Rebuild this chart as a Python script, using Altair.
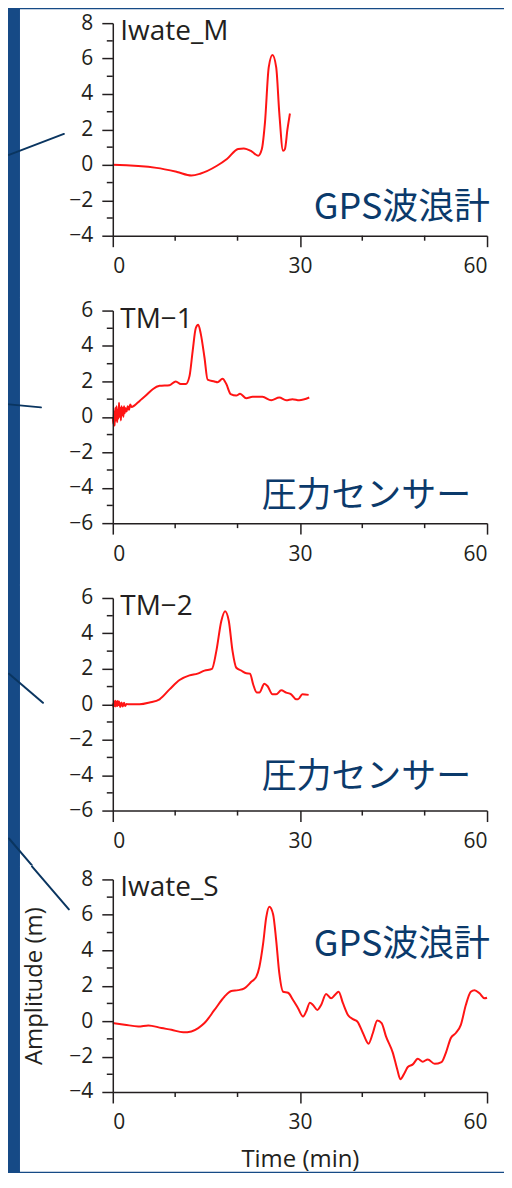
import altair as alt
import pandas as pd

# ---------------- data ----------------
IWATE_M_T = [0, 7, 10.3, 12.6, 14, 16.7, 18.3, 20.1, 21, 22.3, 23.3, 23.9, 24.4, 25.0, 25.6,
             26.2, 26.7, 27.3, 27.6, 28.0, 28.4]
IWATE_M_V = [0, -0.17, -0.4, -0.6, -0.5, -0.05, 0.33, 0.9, 0.93, 0.75, 0.52, 0.9, 2.4, 5.5, 6.2,
             5.5, 2.9, 0.8, 0.9, 2.0, 2.9]

TM1_T = [0.0, 0.1, 0.2, 0.3, 0.4, 0.5, 0.6, 0.7, 0.8, 0.9, 1.0, 1.1, 1.2, 1.3, 1.4, 1.5, 1.6, 1.7,
         1.8, 1.9, 2.0, 2.2, 2.4, 2.6, 2.8, 3.0, 3.5, 4.3, 5.3, 6.4, 7.5, 9.1, 10.1, 10.9, 11.7,
         12.3, 12.8, 13.3, 13.7, 14.1, 14.7, 15.2, 16.3, 16.8, 17.6, 18.2, 18.9, 19.8, 20.4,
         21.4, 22.4, 24.0, 25.4, 26.7, 27.8, 28.8, 29.9, 31.5]
TM1_V = [0.0, -0.4, 0.3, -0.5, 0.5, -0.2, 0.6, -0.3, 0.4, -0.1, 0.8, 0.0, 0.5, -0.2, 0.6, 0.1, 0.5,
         0.0, 0.6, 0.2, 0.5, 0.3, 0.6, 0.4, 0.7, 0.55, 0.65, 0.9, 1.2, 1.56, 1.75, 1.79, 2.0, 1.85,
         1.85, 2.3, 3.7, 5.0, 5.2, 4.7, 3.35, 2.1, 2.0, 1.95, 2.15, 1.85, 1.28, 1.2, 1.3,
         1.05, 1.13, 1.13, 0.94, 1.09, 0.94, 1.0, 0.94, 1.09]

TM2_T = [0.0, 0.1, 0.2, 0.3, 0.4, 0.5, 0.6, 0.7, 0.8, 0.9, 1.0, 1.2, 1.4, 1.6, 1.8, 2.0, 2.2, 2.5,
         4.3, 5.9, 7.5, 9.1, 10.7, 12.3, 13.6, 14.7, 15.9, 16.6, 17.4, 18.0, 18.6, 19.2, 19.8,
         20.6, 21.4, 22.0, 22.5, 23.1, 23.5, 24.3, 24.8, 25.6, 26.2, 27.0, 27.8, 28.6, 29.4,
         29.7, 30.4, 31.4]
TM2_V = [0.05, -0.15, 0.15, -0.1, 0.2, -0.12, 0.15, -0.1, 0.18, -0.05, 0.15, -0.15, 0.1, -0.12,
         0.08, -0.1, 0.02, 0.0, 0.0, 0.1, 0.28, 0.84, 1.37, 1.63, 1.73, 1.9, 2.0, 3.0, 4.7, 5.25,
         4.7, 3.0, 2.06, 1.9, 1.75, 1.73, 1.13, 0.66, 0.66, 1.16, 1.03, 0.56, 0.56, 0.79, 0.66,
         0.56, 0.28, 0.28, 0.56, 0.53]

IWATE_S_T = [0, 1.9, 4.1, 5.7, 7.8, 9.4, 11.3, 12.6, 13.7, 14.7, 16.3, 17.9, 19.0, 20.1, 21.1,
             22.2, 23.0, 23.5, 24.1, 24.6, 25.1, 25.7, 26.2, 26.7, 27.3, 28.1, 28.9, 29.7, 30.5,
             31.0, 31.6, 32.1, 32.8, 33.4, 34.2, 35.0, 35.6, 36.2, 36.9, 37.7, 38.5, 39.2, 40.1,
             41.0, 41.7, 42.4, 43.1, 43.8, 44.9, 45.6, 46.1, 46.8, 47.3, 48.1, 48.9, 49.7, 50.5,
             51.6, 52.7, 53.4, 54.2, 55.0, 55.8, 56.6, 57.4, 58.0, 58.8, 59.6, 60.0]
IWATE_S_V = [-0.11, -0.2, -0.3, -0.24, -0.39, -0.49, -0.63, -0.58, -0.39, -0.11, 0.63, 1.38, 1.7,
             1.75, 1.85, 2.22, 2.5, 3.06, 4.37, 5.86, 6.46, 6.04, 4.55, 2.69, 1.66, 1.6, 1.19,
             0.73, 0.26, 0.54, 1.04, 0.91, 0.63, 0.91, 1.53, 1.29, 1.47, 1.66, 1.01, 0.35, 0.11,
             -0.02, -0.67, -1.27, -0.67, 0.04, -0.11, -0.86, -1.79, -2.72, -3.28, -2.91, -2.59,
             -2.44, -2.13, -2.29, -2.16, -2.41, -2.31, -1.79, -0.95, -0.67, -0.21, 0.91, 1.66,
             1.75, 1.57, 1.29, 1.32]

STATIONS = ["Iwate_M", "TM\u22121", "TM\u22122", "Iwate_S"]
SENSORS = ["GPS波浪計", "圧力センサー", "圧力センサー", "GPS波浪計"]
SENSOR_Y = [-3.04, -5.07, -4.7, 3.67]
Y_RANGES = [(-4, 8), (-6, 6), (-6, 6), (-4, 8)]
X_MAJOR = [0, 30, 60]
X_MINOR = [10, 20, 40, 50]
X_TITLE = "Time (min)"
Y_TITLE = "Amplitude (m)"

SERIES = [(IWATE_M_T, IWATE_M_V), (TM1_T, TM1_V), (TM2_T, TM2_V), (IWATE_S_T, IWATE_S_V)]

# ---------------- styling ----------------
W, H = 375, 213
INK = "#231f20"
NAVY = "#0b3a6b"
RED = "#ff1414"
FONT = "Open Sans"
JFONT = "Noto Sans CJK JP"
# white card extents per panel (top, bottom) relative to the plot area
CARD = [(-14, 276), (-14, 276), (-14, 270), (-14, 293)]
# connector lines toward the (absent) map, per panel: (x1, y1, x2, y2)
CONNECT = [
    [(-104, 132, -49, 111)],
    [(-104, 94, -72, 97)],
    [(-104, 76, -70, 105), (-104, 241, -81, 268)],
    [(-81, -13, -44, 30)],
]

one = alt.Data(values=[{}])


def panel(i, last):
    lo, hi = Y_RANGES[i]
    t, v = SERIES[i]
    df = pd.DataFrame({"t": t, "v": v})
    y_major = list(range(lo, hi + 1, 2))
    y_minor = list(range(lo + 1, hi, 2))
    xaxis = alt.Axis(
        values=X_MAJOR,
        tickCount=30,
        format="d",
        tickSize=11,
        labelPadding=9,
        labelOverlap=False,
        title=X_TITLE if last else None,
        titlePadding=15,
        zindex=2,
    )
    yaxis = alt.Axis(
        values=y_major,
        tickCount=30,
        format="d",
        tickSize=11,
        labelPadding=9,
        labelOverlap=False,
        title=Y_TITLE if last else None,
        titlePadding=22,
        zindex=2,
    )
    xs = alt.Scale(domain=[0, 60], nice=False, zero=False)
    ys = alt.Scale(domain=[lo, hi], nice=False, zero=False)

    top, bottom = CARD[i]
    card = alt.Chart(one).mark_rect(color="white").encode(
        x=alt.value(-93), x2=alt.value(W + 17), y=alt.value(top), y2=alt.value(bottom)
    )
    line = alt.Chart(df).mark_line(color=RED, strokeWidth=2, interpolate="monotone").encode(
        x=alt.X("t:Q", scale=xs, axis=xaxis),
        y=alt.Y("v:Q", scale=ys, axis=yaxis),
    )
    minor_y = alt.Chart(pd.DataFrame({"t": y_minor})).mark_rule(color=INK, strokeWidth=1.5).encode(
        y=alt.Y("t:Q", scale=ys, axis=yaxis), x=alt.value(-6), x2=alt.value(0)
    )
    minor_x = alt.Chart(pd.DataFrame({"t": X_MINOR})).mark_rule(color=INK, strokeWidth=1.5).encode(
        x=alt.X("t:Q", scale=xs, axis=xaxis), y=alt.value(H), y2=alt.value(H + 5)
    )
    name = alt.Chart(one).mark_text(
        text=STATIONS[i], align="left", baseline="top", font=FONT, fontSize=28, color=INK, dy=-5
    ).encode(x=alt.datum(1.2), y=alt.datum(hi))
    sensor = alt.Chart(one).mark_text(
        text=SENSORS[i], align="right", baseline="alphabetic", font=JFONT,
        fontSize=36 if SENSORS[i].startswith("GPS") else 35, color=NAVY,
        dx=3 if SENSORS[i].startswith("GPS") else -16,
    ).encode(x=alt.datum(60), y=alt.datum(SENSOR_Y[i]))
    layers = [card]
    for (x1, y1, x2, y2) in CONNECT[i]:
        layers.append(
            alt.Chart(one).mark_rule(color="#0a3560", strokeWidth=2, strokeCap="round").encode(
                x=alt.value(x1), x2=alt.value(x2), y=alt.value(y1), y2=alt.value(y2)
            )
        )
    layers += [line, minor_y, minor_x, name, sensor]
    return alt.layer(*layers).properties(width=W, height=H)


panels = [panel(i, i == 3) for i in range(4)]

chart = (
    alt.vconcat(*panels, spacing=-2, padding=0)
    .configure(background="#164a86")
    .configure_view(stroke=None)
    .configure_axis(
        domainColor=INK, domainWidth=1.5, tickColor=INK, tickWidth=1.5, grid=False,
        labelFont=FONT, labelFontSize=21, labelColor=INK,
        titleFont=FONT, titleFontSize=24, titleFontWeight="normal", titleColor=INK,
    )
)

chart.save("out.html", embed_options={"renderer": "svg", "actions": False})
